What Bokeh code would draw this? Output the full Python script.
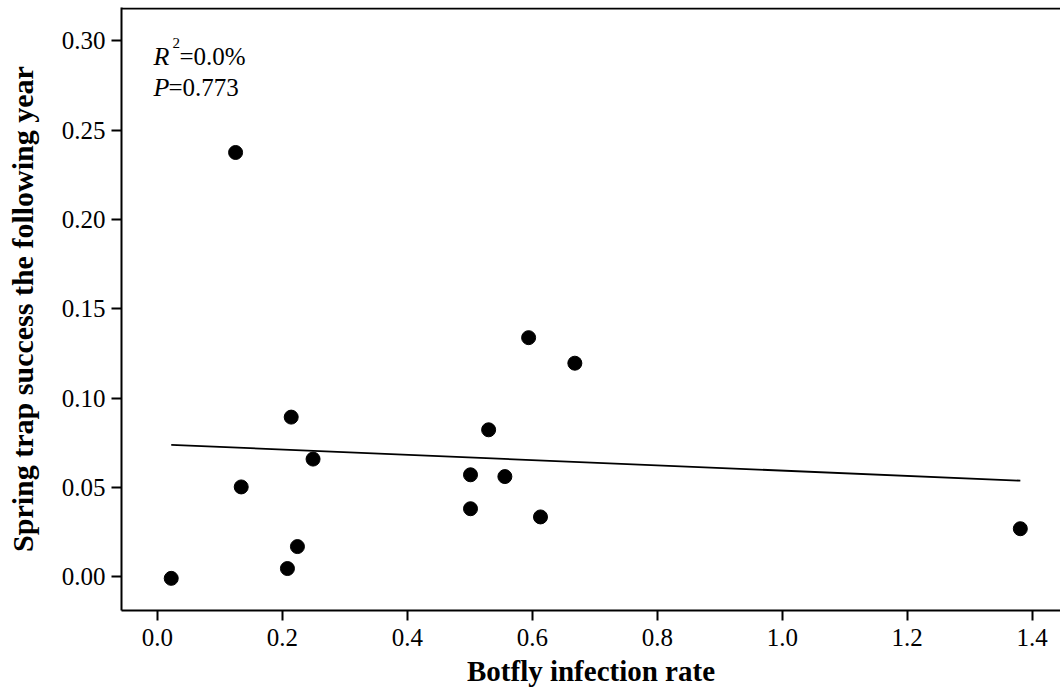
from bokeh.plotting import figure
from bokeh.models import Range1d, FixedTicker, PrintfTickFormatter, Span, Label
from bokeh.embed import file_html
from bokeh.resources import INLINE

# Data
infection_rate = [0.022, 0.125, 0.134, 0.208, 0.214, 0.224, 0.249, 0.501, 0.501,
                  0.530, 0.556, 0.594, 0.613, 0.668, 1.381]
trap_success = [-0.001, 0.2375, 0.0502, 0.0045, 0.0893, 0.0168, 0.0658, 0.0570, 0.0380,
                0.0822, 0.0560, 0.1338, 0.0334, 0.1195, 0.0268]
fit_x = [0.022, 1.381]
fit_y = [0.0738, 0.0537]
x_ticks = [0.0, 0.2, 0.4, 0.6, 0.8, 1.0, 1.2, 1.4]
y_ticks = [0.00, 0.05, 0.10, 0.15, 0.20, 0.25, 0.30]
r2_text = "=0.0%"
p_text = "=0.773"

FONT = "Liberation Serif"
Y_END = 0.3187

p = figure(width=1060, height=689, output_backend="svg", toolbar_location=None,
           x_range=Range1d(-0.0576, 1.4453), y_range=Range1d(-0.0190, Y_END),
           min_border_left=121, min_border_right=0, min_border_top=7, min_border_bottom=78)
p.outline_line_color = None
p.grid.grid_line_color = None
p.background_fill_color = "white"
p.border_fill_color = "white"

for ax in (p.xaxis[0], p.yaxis[0]):
    ax.axis_line_width = 2
    ax.axis_line_color = "black"
    ax.major_tick_line_width = 2
    ax.major_tick_line_color = "black"
    ax.major_tick_out = 10
    ax.major_tick_in = 0
    ax.minor_tick_line_color = None
    ax.major_label_text_font = FONT
    ax.major_label_text_font_size = "25px"
    ax.major_label_text_color = "black"
    ax.axis_label_text_font = FONT
    ax.axis_label_text_font_style = "bold"
    ax.axis_label_text_color = "black"

p.xaxis.axis_label_text_font_size = "29px"
p.yaxis.axis_label_text_font_size = "30px"
p.xaxis.ticker = FixedTicker(ticks=x_ticks)
p.yaxis.ticker = FixedTicker(ticks=y_ticks)
p.xaxis.formatter = PrintfTickFormatter(format="%.1f")
p.yaxis.formatter = PrintfTickFormatter(format="%.2f")
p.xaxis.axis_label = "Botfly infection rate"
p.yaxis.axis_label = "Spring trap success the following year"
p.xaxis.major_label_standoff = 8
p.yaxis.major_label_standoff = 6
p.xaxis.axis_label_standoff = 6
p.yaxis.axis_label_standoff = 20

p.add_layout(Span(location=Y_END - 0.0006, dimension="width", line_color="black", line_width=2))

p.line(fit_x, fit_y, line_color="black", line_width=1.8)
p.scatter(infection_rate, trap_success, size=14, marker="circle",
          fill_color="black", line_color="black")

def lab(x, y, text, size, style="normal"):
    p.add_layout(Label(x=x, y=y, text=text, text_font=FONT, text_font_size=size,
                       text_font_style=style, text_color="black",
                       text_baseline="alphabetic", text_align="left"))

lab(-0.0064, 0.2911, "R", "26px", "italic")
lab(0.0240, 0.2986, "2", "15px")
lab(0.0352, 0.2911, r2_text, "25px")
lab(-0.0064, 0.2740, "P", "26px", "italic")
lab(0.0176, 0.2740, p_text, "25px")

open("out.html", "w").write(file_html(p, INLINE))
